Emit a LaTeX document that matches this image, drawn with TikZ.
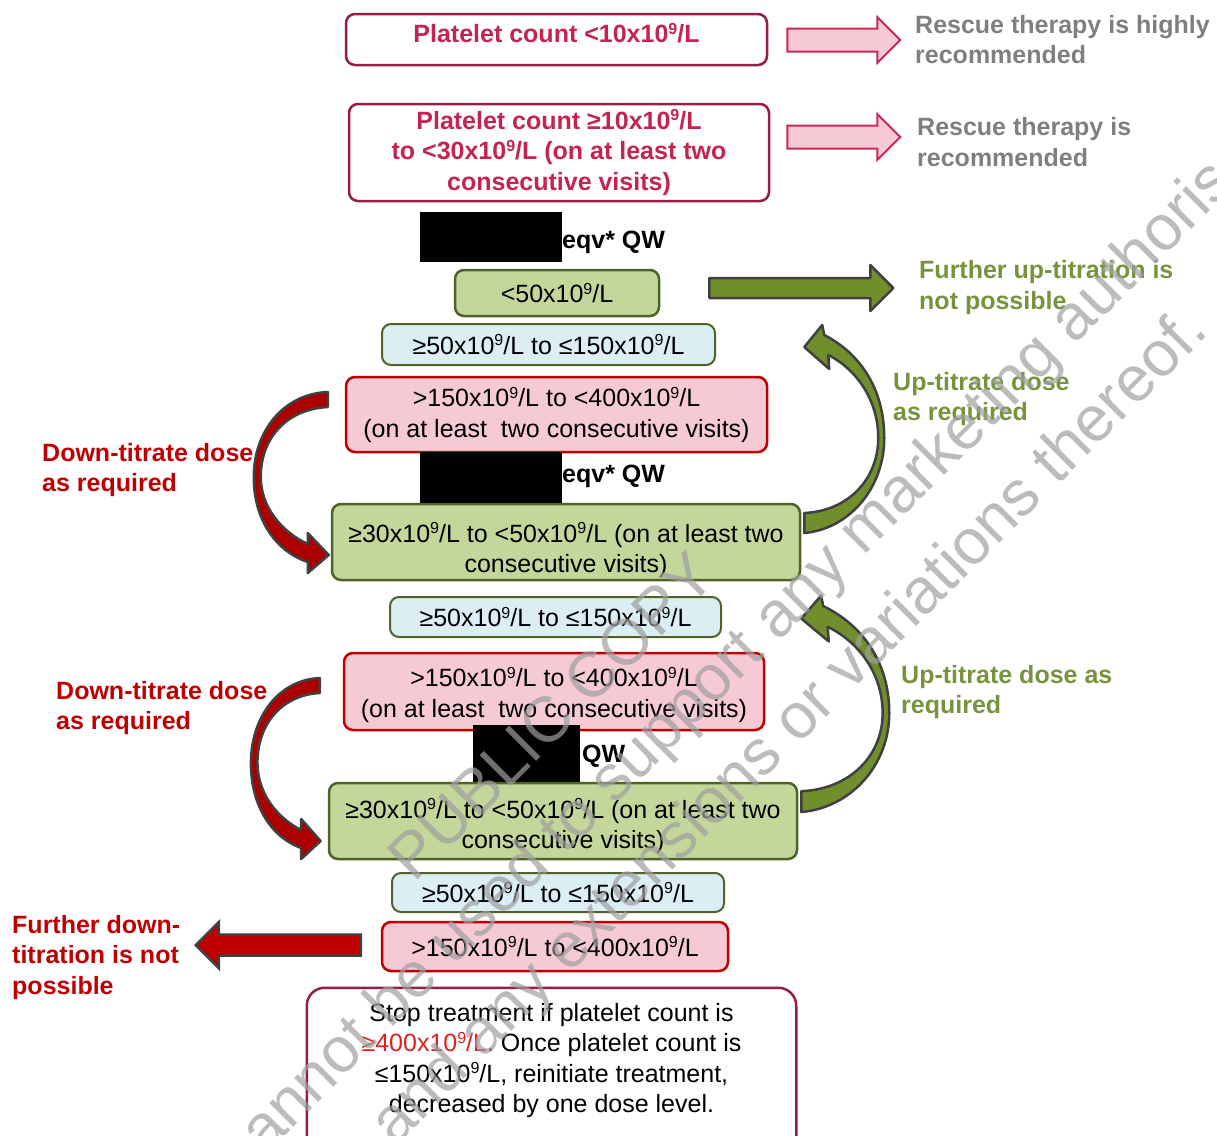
\documentclass[tikz,border=0pt]{standalone}
\usepackage{fontspec}
\setmainfont{Liberation Sans}
\usetikzlibrary{calc,positioning}

\definecolor{plum}{RGB}{150,30,66}
\definecolor{crimsontext}{RGB}{196,36,80}
\definecolor{rose}{RGB}{246,202,213}
\definecolor{roseedge}{RGB}{205,40,84}
\definecolor{leaf}{RGB}{196,215,155}
\definecolor{leafedge}{RGB}{79,98,40}
\definecolor{moss}{RGB}{112,143,44}
\definecolor{mosstext}{RGB}{119,147,60}
\definecolor{sky}{RGB}{219,238,244}
\definecolor{alarm}{RGB}{192,0,0}
\definecolor{blood}{RGB}{172,0,0}
\definecolor{rim}{RGB}{64,64,64}
\definecolor{slate}{RGB}{127,127,127}
\definecolor{flag}{RGB}{226,30,30}

\newcommand\bodysize{\fontsize{25}{30.5}\selectfont}
\newcommand\xgl{x10\raisebox{.34em}{\fontsize{16}{16}\selectfont 9}/L}

\tikzset{
  box/.style={rounded corners=9, line width=2.5, align=center, inner sep=0, font=\bodysize},
  boxtext/.style={align=center, inner sep=0, font=\bodysize},
  alertbox/.style={box, draw=plum, fill=white, text=crimsontext, font=\bodysize\bfseries},
  greenbox/.style={box, draw=leafedge, fill=leaf},
  bluebox/.style={box, draw=leafedge, fill=sky, line width=2},
  pinkbox/.style={box, draw=alarm, fill=rose},
  redact/.style={fill=black, inner sep=0},
  qw/.style={anchor=west, inner sep=0, font=\bodysize\bfseries},
  note/.style={anchor=west, inner sep=0, align=left, font=\bodysize\bfseries},
  pinkarrow/.style={draw=roseedge, fill=rose, line width=2},
  greenarrow/.style={draw=rim, fill=moss, line width=2.5, line join=round},
  redarrow/.style={draw=rim, fill=alarm, line width=2.5},
  downarrow/.style={draw=rim, fill=blood, line width=2.5, line join=round},
  wmark/.style={rotate=45, inner sep=0, text=gray!75, text opacity=.7, font=\fontsize{64}{78}\selectfont},
  pics/block/.style n args={3}{code={
    \draw[#3] (0,-#2) -- (#1-23,-#2) -- (#1-23,-23) -- (#1,0) -- (#1-23,23) -- (#1-23,#2) -- (0,#2) -- cycle;}},
  pics/downcurve/.style={code={
    \draw[downarrow] (0,0) .. controls (-45,2) and (-74,40) .. (-74,85)
      .. controls (-74,130) and (-50,160) .. (-20,170) -- (-20,181) -- (1,163)
      -- (-20,141) -- (-20,152) .. controls (-46,140) and (-67,115) .. (-67,85)
      .. controls (-67,45) and (-40,17) .. (0,15) -- cycle;}},
  pics/upcurve/.style={code={
    \draw[greenarrow] (0,0) .. controls (45,-4) and (80,-45) .. (80,-95)
      .. controls (80,-145) and (55,-180) .. (20,-198) -- (18,-208) -- (0,-186)
      -- (25,-164) -- (24,-178) .. controls (50,-165) and (74,-135) .. (74,-95)
      .. controls (74,-55) and (45,-22) .. (0,-20) -- cycle;}}
}

\begin{document}
\begin{tikzpicture}[x=1pt, y=-1pt]
    \useasboundingbox (0,0) rectangle (1217,1135);

    % Seuils de traitement de secours
    \node[alertbox, minimum width=421, minimum height=51, text depth=13pt] (lt10) at (556.5,39.5) {Platelet count <10\xgl};
    \node[alertbox, minimum width=420, minimum height=97] (lt30) at (559,152.5) {Platelet count ≥10\xgl\\to <30\xgl{} (on at least two\\consecutive visits)};
    \node[note, text=slate] (rescA) at (915,39.5) {Rescue therapy is highly\\recommended};
    \node[note, text=slate] (rescB) at (917,142) {Rescue therapy is\\recommended};
    \coordinate (tailA) at ($(lt10.east)+(19,0.5)$);
    \coordinate (tailB) at ($(lt30.east)+(17,-15.5)$);
    \pic at (tailA) {block={113}{11.5}{pinkarrow}};
    \pic at (tailB) {block={113}{11.5}{pinkarrow}};

    % Premier palier de dose
    \node[redact, minimum width=142, minimum height=50] (hideA) at (491,237) {};
    \node[qw] (doseA) at (562,242) {eqv* QW};
    \node[greenbox, minimum width=204, minimum height=46] (lo50) at (557,293) {<50\xgl};
    \node[bluebox, minimum width=333, minimum height=41] (midA) at (548.5,344.5) {≥50\xgl{} to ≤150\xgl};
    \node[pinkbox, minimum width=421, minimum height=75] (hiA) at (556.5,414.5) {>150\xgl{} to <400\xgl\\(on at least\ \ two consecutive visits)};
    \node[note, text=mosstext] (upno) at (919,287.5) {Further up-titration is\\not possible};
    \coordinate (tailG) at ($(lo50.east)+(49,-5)$);
    \pic at (tailG) {block={184}{10}{greenarrow}};

    % Second palier de dose
    \node[redact, minimum width=142, minimum height=53] (hideB) at (491,478.5) {};
    \node[qw] (doseB) at (562,476) {eqv* QW};
    \node[greenbox, minimum width=468, minimum height=76] (lowA) at (566,542) {};
    \node[boxtext] (lowAtext) at ($(lowA.center)+(0,8)$) {≥30\xgl{} to <50\xgl{} (on at least two\\consecutive visits)};
    \node[bluebox, minimum width=331, minimum height=40] (midB) at (555.5,617) {≥50\xgl{} to ≤150\xgl};
    \node[pinkbox, minimum width=420, minimum height=77] (hiB) at (554,691.5) {};
    \node[boxtext] (hiBtext) at ($(hiB.center)+(0,3)$) {>150\xgl{} to <400\xgl\\(on at least\ \ two consecutive visits)};
    \node[note, text=alarm] (downA) at (42,470) {Down-titrate dose\\as required};
    \node[note, text=mosstext] (upA) at (893,399) {Up-titrate dose\\as required};
    \coordinate (bendA) at ($(hiA.west)+(-17,-22.5)$);
    \coordinate (riseA) at ($(lowA.east)+(3,-9)$);
    \pic at (bendA) {downcurve};
    \pic at (riseA) {upcurve};

    % Troisieme palier de dose
    \node[redact, minimum width=107, minimum height=61] (hideC) at (526.5,755.5) {};
    \node[qw] (doseC) at (582,756) {QW};
    \node[greenbox, minimum width=468, minimum height=76] (lowB) at (563,821) {};
    \node[boxtext] (lowBtext) at ($(lowB.center)+(0,5)$) {≥30\xgl{} to <50\xgl{} (on at least two\\consecutive visits)};
    \node[bluebox, minimum width=332, minimum height=39] (midC) at (558,892.5) {≥50\xgl{} to ≤150\xgl};
    \node[pinkbox, minimum width=346, minimum height=49] (hiC) at (555,946.5) {>150\xgl{} to <400\xgl};
    \node[note, text=alarm] (downB) at (56,708) {Down-titrate dose\\as required};
    \node[note, text=mosstext] (upB) at (901,692) {Up-titrate dose as\\required};
    \coordinate (bendB) at ($(hiB.west)+(-23,-13.5)$);
    \coordinate (riseB) at ($(lowB.east)+(3,-9)$);
    \pic[xscale=.93] at (bendB) {downcurve};
    \pic[xscale=1.1, yscale=1.04] at (riseB) {upcurve};

    % Pas de nouvelle diminution
    \node[note, text=alarm] (downno) at (12,957.5) {Further down-\\titration is not\\possible};
    \coordinate (tailR) at ($(hiC.west)+(-20,-1.5)$);
    \pic[xscale=-1] at (tailR) {block={165}{10.5}{redarrow}};

    % Arret du traitement
    \node[box, minimum width=487, minimum height=143] (stop) at (551.5,1060.5) {Stop treatment if platelet count is\\\textcolor{flag}{≥400\xgl}. Once platelet count is\\≤150\xgl, reinitiate treatment,\\decreased by one dose level.};
    \draw[plum, line width=2.5, rounded corners=18] (stop.north west) rectangle ($(stop.south east)+(0,40)$);

    % Filigrane
    \node[wmark] (wmA) at (551,716) {PUBLIC COPY};
    \node[wmark] (wmB) at (622,775) {This document cannot be used to support any marketing authorisation};
    \node[wmark] (wmC) at (677,843) {application and any extensions or variations thereof.};
\end{tikzpicture}
\end{document}
